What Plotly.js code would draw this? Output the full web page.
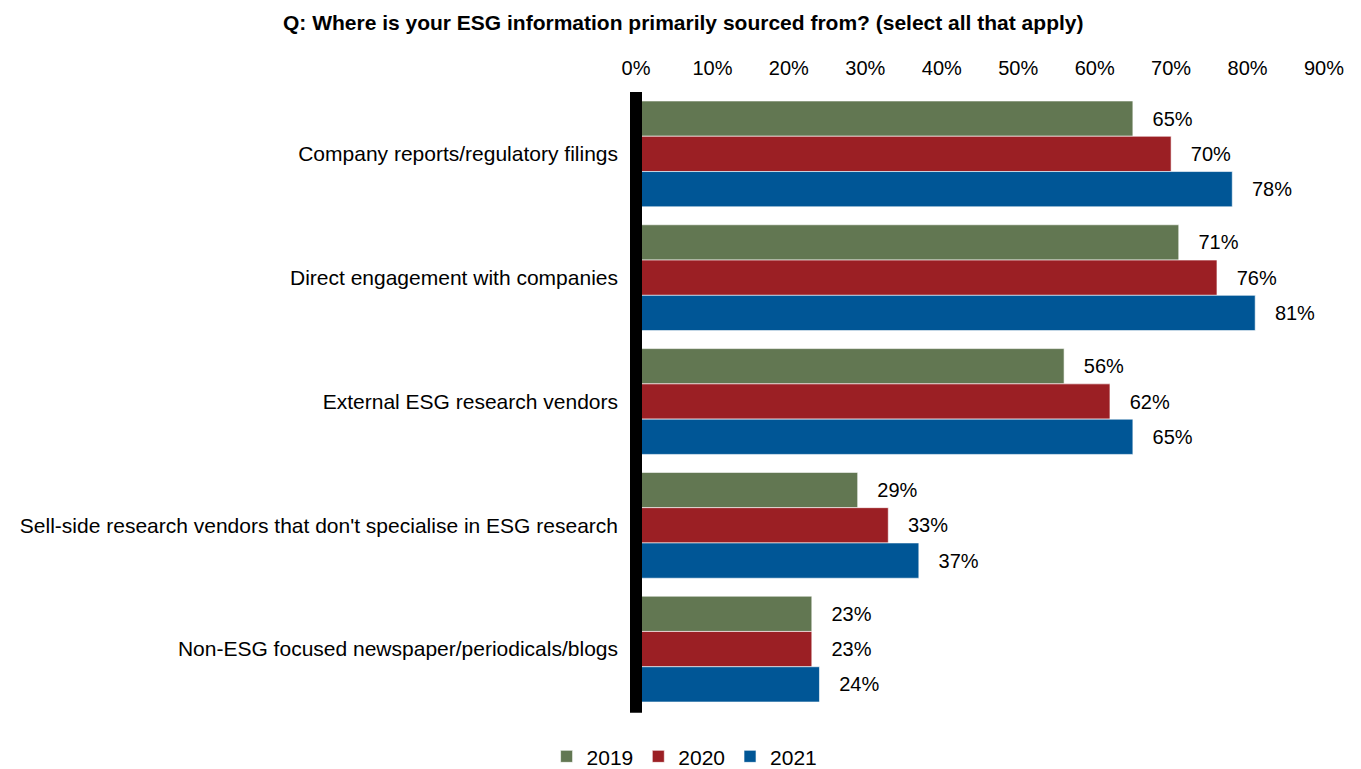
<!DOCTYPE html>
<html>
<head>
<meta charset="utf-8">
<script src="https://cdn.plot.ly/plotly-3.0.1.min.js"></script>
<style>html,body{margin:0;padding:0;background:#fff;}#chart{width:1361px;height:769px;}</style>
</head>
<body>
<div id="chart"></div>
<script>
const categories = [
  "Company reports/regulatory filings",
  "Direct engagement with companies",
  "External ESG research vendors",
  "Sell-side research vendors that don't specialise in ESG research",
  "Non-ESG focused newspaper/periodicals/blogs"
];
const seriesNames = ["2019", "2020", "2021"];
const values2019 = [65, 71, 56, 29, 23];
const values2020 = [70, 76, 62, 33, 23];
const values2021 = [78, 81, 65, 37, 24];
const colors = ["#627752", "#9B1F24", "#005696"];
const xTicks = [0, 10, 20, 30, 40, 50, 60, 70, 80, 90];

const FONT = "Arial, 'Liberation Sans', sans-serif";
const allValues = [values2019, values2020, values2021];

const traces = allValues.map((vals, i) => ({
  type: "bar",
  orientation: "h",
  name: seriesNames[i],
  y: categories,
  x: vals,
  marker: {color: colors[i], line: {color: "rgba(255,255,255,0.6)", width: 1}},
  text: vals.map(v => v + "%"),
  texttemplate: "\u00a0\u00a0\u00a0%{text}",
  textposition: "outside",
  textfont: {family: FONT, size: 20, color: "#000"},
  constraintext: "none",
  cliponaxis: false,
  hoverinfo: "skip"
}));

const layout = {
  width: 1361,
  height: 769,
  paper_bgcolor: "#fff",
  plot_bgcolor: "#fff",
  margin: {l: 636, r: 37, t: 92, b: 58},
  barmode: "group",
  bargap: 0.145,
  bargroupgap: 0,
  font: {family: FONT, size: 20, color: "#000"},
  title: {
    text: "<b>Q: Where is your ESG information primarily sourced from? (select all that apply)</b>",
    font: {family: FONT, size: 21, color: "#000"},
    x: 0.502, xref: "container", xanchor: "center",
    y: 0.971, yref: "container", yanchor: "middle"
  },
  xaxis: {
    side: "top",
    range: [0, 90],
    tickvals: xTicks,
    ticktext: xTicks.map(t => t + "%"),
    showgrid: false, zeroline: false, showline: false,
    ticks: "", ticklabelstandoff: 12,
    tickfont: {family: FONT, size: 20, color: "#000"},
    fixedrange: true
  },
  yaxis: {
    autorange: "reversed",
    showgrid: false, zeroline: false, showline: false,
    ticks: "", ticklabelstandoff: 17,
    tickfont: {family: FONT, size: 21, color: "#000"},
    fixedrange: true
  },
  shapes: [{
    type: "line", xref: "paper", yref: "paper",
    x0: 0, x1: 0, y0: -0.003, y1: 1,
    line: {color: "#000", width: 12}
  }],
  showlegend: true,
  legend: {
    orientation: "h",
    xref: "container", yref: "container",
    x: 0.503, xanchor: "center",
    y: 0.016, yanchor: "middle",
    font: {family: FONT, size: 21, color: "#000"},
    itemwidth: 30,
    traceorder: "normal"
  }
};

Plotly.newPlot("chart", traces, layout, {displayModeBar: false, staticPlot: true});
</script>
</body>
</html>
